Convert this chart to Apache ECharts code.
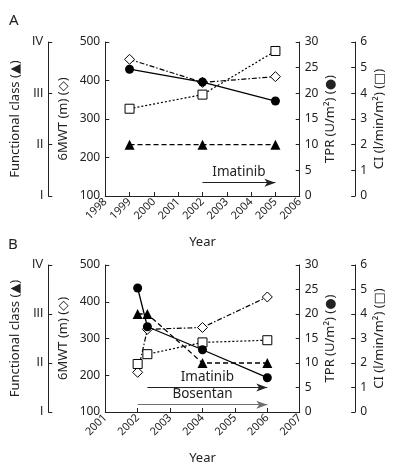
<!DOCTYPE html>
<html>
<head>
<meta charset="utf-8">
<script src="https://cdn.jsdelivr.net/npm/echarts@6/dist/echarts.min.js"></script>
<style>
html,body{margin:0;padding:0;background:#fff;}
#chart{width:399px;height:466px;}
</style>
</head>
<body>
<div id="chart"></div>
<script>
// ---- Data ----
const panelLabels = ['A', 'B'];
const fcTicks = ['I', 'II', 'III', 'IV'];

const yearsA = [1999, 2002, 2005];
const fcA = [2, 2, 2];
const mwtA = [455, 395, 410];
const tprA = [24.7, 22.2, 18.5];
const ciA = [3.4, 3.95, 5.65];
const xRangeA = [1998, 2006];
const arrowsA = [{ name: 'Imatinib', from: 2002, to: 2005, tpr: 2.6 }];

const yearsB = [2002, 2002.3, 2004, 2006];
const fcB = [3, 3, 2, 2];
const mwtB = [208, 325, 330, 413];
const tprB = [25.3, 17.4, 12.7, 7.0];
const ciB = [1.96, 2.36, 2.84, 2.93];
const xRangeB = [2001, 2007];
const arrowsB = [
  { name: 'Imatinib', from: 2002.3, to: 2006, tpr: 5.0 },
  { name: 'Bosentan', from: 2002, to: 2006, tpr: 1.5 }
];

// ---- Styling ----
const FONT = "'Noto Sans', 'DejaVu Sans', sans-serif";
const ROMAN_FONT = "'Liberation Sans', 'DejaVu Sans', sans-serif";
const INK = '#222';

const chart = echarts.init(document.getElementById('chart'), null, { renderer: 'canvas' });

function yAxisBase(gridIndex, position, offset, min, max, interval, name, nameGap, formatter, labelFont) {
  return {
    type: 'value', gridIndex, position, offset, min, max, interval,
    name, nameLocation: 'middle', nameRotate: 90, nameGap,
    nameTextStyle: { fontFamily: FONT, fontSize: 13, color: INK },
    axisLine: { show: true, lineStyle: { color: INK, width: 1 } },
    axisTick: { show: true, inside: true, length: 4, lineStyle: { color: INK } },
    axisLabel: { fontFamily: labelFont || FONT, fontSize: 12, color: INK, margin: 5, formatter },
    splitLine: { show: false }
  };
}

function xAxisBase(gridIndex, range) {
  return {
    type: 'value', gridIndex, min: range[0], max: range[1], interval: 1,
    name: 'Year', nameLocation: 'middle', nameGap: 40,
    nameTextStyle: { fontFamily: FONT, fontSize: 13, color: INK },
    axisLine: { show: true, onZero: false, lineStyle: { color: INK, width: 1 } },
    axisTick: { show: true, inside: true, length: 4, lineStyle: { color: INK } },
    axisLabel: { fontFamily: FONT, fontSize: 11, color: INK, rotate: 45, margin: 4,
      formatter: v => String(v) },
    splitLine: { show: false }
  };
}

function zip(xs, ys) { return xs.map((x, i) => [x, ys[i]]); }

function seriesFor(xi, yBase, years, fc, mwt, tpr, ci, arrows) {
  const common = { type: 'line', xAxisIndex: xi, animation: false, silent: true, z: 3 };
  const out = [
    Object.assign({}, common, {
      yAxisIndex: yBase + 0, data: zip(years, fc),
      symbol: 'triangle', symbolSize: 10,
      itemStyle: { color: '#000' },
      lineStyle: { color: '#000', width: 1.3, type: [5, 3] }
    }),
    Object.assign({}, common, {
      yAxisIndex: yBase + 1, data: zip(years, mwt),
      symbol: 'diamond', symbolSize: 10,
      itemStyle: { color: '#fff', borderColor: '#000', borderWidth: 1 },
      lineStyle: { color: '#000', width: 1.2, type: [5, 2, 1.5, 2] }
    }),
    Object.assign({}, common, {
      yAxisIndex: yBase + 3, data: zip(years, ci),
      symbol: 'rect', symbolSize: 9,
      itemStyle: { color: '#fff', borderColor: '#000', borderWidth: 1 },
      lineStyle: { color: '#000', width: 1.2, type: [2, 2] }
    }),
    Object.assign({}, common, {
      yAxisIndex: yBase + 2, data: zip(years, tpr),
      symbol: 'circle', symbolSize: 9,
      itemStyle: { color: '#000' },
      lineStyle: { color: '#000', width: 1.3, type: 'solid' }
    })
  ];
  arrows.forEach((a) => {
    const col = a.name === 'Bosentan' ? '#6e6e6e' : '#222';
    out.push({
      type: 'line', xAxisIndex: xi, yAxisIndex: yBase + 2, data: [],
      animation: false, silent: true,
      markLine: {
        silent: true, animation: false,
        symbol: ['none', 'arrow'], symbolSize: [6, 11],
        lineStyle: { color: col, width: 1.2, type: 'solid' },
        label: { show: true, position: 'middle', formatter: a.name,
          fontFamily: FONT, fontSize: 13.5, color: INK, distance: 3 },
        data: [[{ coord: [a.from, a.tpr] }, { coord: [a.to, a.tpr] }]]
      }
    });
  });
  return out;
}

const grids = [
  { left: 98.5, top: 42, width: 213, height: 154 },
  { left: 98.5, top: 265, width: 213, height: 155 }
];

const yAxes = [];
[0, 1].forEach(g => {
  yAxes.push(yAxisBase(g, 'left', 57, 1, 4, 1, 'Functional class (▲)', 26, v => fcTicks[v - 1], ROMAN_FONT));
  yAxes.push(yAxisBase(g, 'left', 0, 100, 500, 100, '6MWT (m) (◇)', 35));
  yAxes.push(yAxisBase(g, 'right', 0, 0, 30, 5, 'TPR (U/m²) (●)', 24));
  yAxes.push(yAxisBase(g, 'right', 55.5, 0, 6, 1, 'CI (l/min/m²) (□)', 18));
});

const option = {
  backgroundColor: '#fff',
  animation: false,
  grid: grids,
  xAxis: [xAxisBase(0, xRangeA), xAxisBase(1, xRangeB)],
  yAxis: yAxes,
  series: [].concat(
    seriesFor(0, 0, yearsA, fcA, mwtA, tprA, ciA, arrowsA),
    seriesFor(1, 4, yearsB, fcB, mwtB, tprB, ciB, arrowsB)
  ),
  graphic: [
    { type: 'text', left: 9, top: 13, style: { text: panelLabels[0], font: '15px ' + FONT, fill: INK } },
    { type: 'text', left: 8, top: 237, style: { text: panelLabels[1], font: '15px ' + FONT, fill: INK } }
  ]
};
chart.setOption(option);
</script>
</body>
</html>
